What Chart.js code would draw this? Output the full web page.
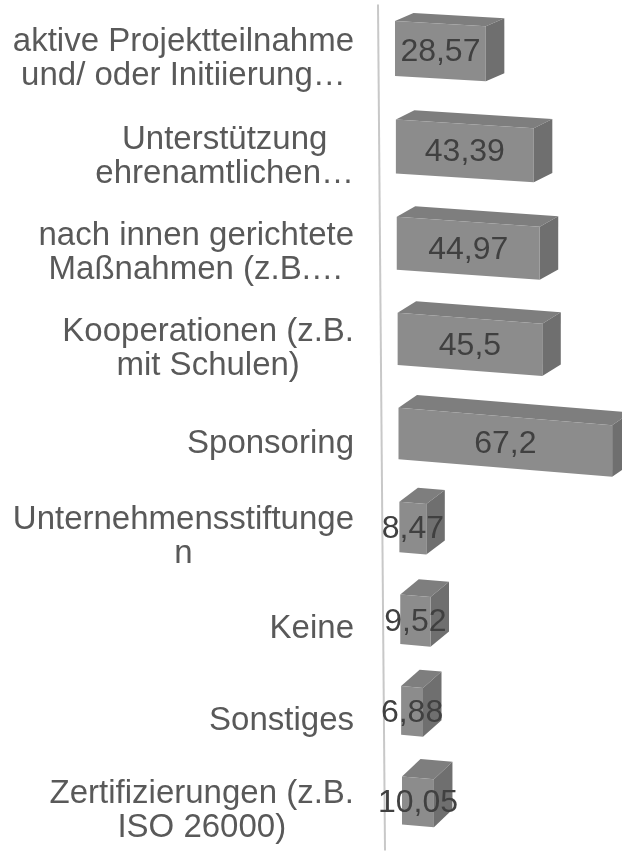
<!DOCTYPE html>
<html>
<head>
<meta charset="utf-8">
<script src="https://cdn.jsdelivr.net/npm/chart.js@4/dist/chart.umd.min.js"></script>
<style>
  html, body { margin: 0; padding: 0; background: #ffffff; }
  #wrap { width: 622px; height: 853px; position: relative; }
</style>
</head>
<body>
<div id="wrap"><canvas id="chart"></canvas></div>
<script>
// ---- data ----
const categories = [
  ["aktive Projektteilnahme", "und/ oder Initiierung…"],
  ["Unterstützung", "ehrenamtlichen…"],
  ["nach innen gerichtete", "Maßnahmen (z.B.…"],
  ["Kooperationen (z.B.", "mit Schulen)"],
  ["Sponsoring"],
  ["Unternehmensstiftunge", "n"],
  ["Keine"],
  ["Sonstiges"],
  ["Zertifizierungen (z.B.", "ISO 26000)"]
];
const values = [28.57, 43.39, 44.97, 45.5, 67.2, 8.47, 9.52, 6.88, 10.05];
const valueLabels = values.map(v => String(v).replace('.', ','));
const xMin = 0;
const xMax = 71.4;

// ---- style ----
const FONT_VAL = "32px 'Liberation Sans', Arial, sans-serif";
const FONT_CAT = "33px 'Liberation Sans', Arial, sans-serif";
const COL_FRONT = '#8c8c8c';
const COL_TOP = '#7e7e7e';
const COL_SIDE = '#6f6f6f';
const COL_CAT = '#595959';
const COL_VAL = '#404040';
const COL_AXIS = '#c8c8c8';

function geom(el, i, n) {
  const t = n > 1 ? i / (n - 1) : 0;
  const shift = 7 * t;
  const yc = el.y + 36 * t * (1 - t);
  const h = el.height * (1 - 0.13 * t);
  const x0 = el.base + shift;
  const x1 = el.x + shift;
  const w = x1 - x0;
  const s = Math.min(0.085, 0.058 + 0.006 * i);
  const dx = 18.5;
  const dy = 8 + 9.6 * t;
  return { t, yc, h, x0, x1, w, s, dx, dy, yt: yc - h / 2, yb: yc + h / 2, d: s * w };
}

function poly(ctx, pts, color) {
  ctx.beginPath();
  ctx.moveTo(pts[0][0], pts[0][1]);
  for (let k = 1; k < pts.length; k++) ctx.lineTo(pts[k][0], pts[k][1]);
  ctx.closePath();
  ctx.fillStyle = color;
  ctx.fill();
}

const box3d = {
  id: 'box3d',
  beforeDatasetsDraw(chart) {
    const ctx = chart.ctx, a = chart.chartArea;
    ctx.save();
    ctx.strokeStyle = COL_AXIS;
    ctx.lineWidth = 2;
    ctx.beginPath();
    ctx.moveTo(a.left - 17, a.top + 3);
    ctx.lineTo(a.left - 10, a.bottom + 3);
    ctx.stroke();
    ctx.restore();
  },
  beforeDatasetDraw() { return false; },
  afterDatasetsDraw(chart) {
    const ctx = chart.ctx;
    const meta = chart.getDatasetMeta(0);
    const n = meta.data.length;
    ctx.save();
    meta.data.forEach((el, i) => {
      const g = geom(el, i, n);
      poly(ctx, [[g.x0, g.yt], [g.x1, g.yt + g.d], [g.x1 + g.dx, g.yt + g.d - g.dy], [g.x0 + g.dx, g.yt - g.dy]], COL_TOP);
      poly(ctx, [[g.x1, g.yt + g.d], [g.x1 + g.dx, g.yt + g.d - g.dy], [g.x1 + g.dx, g.yb + g.d - g.dy], [g.x1, g.yb + g.d]], COL_SIDE);
      poly(ctx, [[g.x0, g.yt], [g.x1, g.yt + g.d], [g.x1, g.yb + g.d], [g.x0, g.yb]], COL_FRONT);
    });
    // value labels
    ctx.font = FONT_VAL;
    ctx.fillStyle = COL_VAL;
    ctx.textAlign = 'center';
    ctx.textBaseline = 'middle';
    meta.data.forEach((el, i) => {
      const g = geom(el, i, n);
      ctx.fillText(valueLabels[i], (g.x0 + g.x1) / 2, g.yc + g.d / 2 + 1.5);
    });
    // category labels (lines centred within a right-aligned block)
    const a = chart.chartArea;
    const right = a.left - 41;
    const lh = 34;
    ctx.font = FONT_CAT;
    ctx.fillStyle = COL_CAT;
    meta.data.forEach((el, i) => {
      const g = geom(el, i, n);
      const lines = categories[i];
      let widest = 0;
      lines.forEach(l => { widest = Math.max(widest, ctx.measureText(l).width); });
      const cx = right - widest / 2;
      const cy = g.yc + 10;
      lines.forEach((l, k) => {
        ctx.fillText(l, cx, cy + (k - (lines.length - 1) / 2) * lh);
      });
    });
    ctx.restore();
  }
};

new Chart(document.getElementById('chart'), {
  type: 'bar',
  data: {
    labels: categories,
    datasets: [{
      data: values,
      backgroundColor: COL_FRONT,
      borderWidth: 0,
      barPercentage: 0.585,
      categoryPercentage: 1.0
    }]
  },
  options: {
    indexAxis: 'y',
    responsive: true,
    maintainAspectRatio: false,
    animation: false,
    devicePixelRatio: 1,
    layout: { padding: { left: 395, right: 0, top: 1.5, bottom: 5.5 } },
    scales: {
      x: { type: 'linear', min: xMin, max: xMax, display: false },
      y: { type: 'category', display: false }
    },
    plugins: {
      legend: { display: false },
      tooltip: { enabled: false }
    }
  },
  plugins: [box3d]
});
</script>
</body>
</html>
